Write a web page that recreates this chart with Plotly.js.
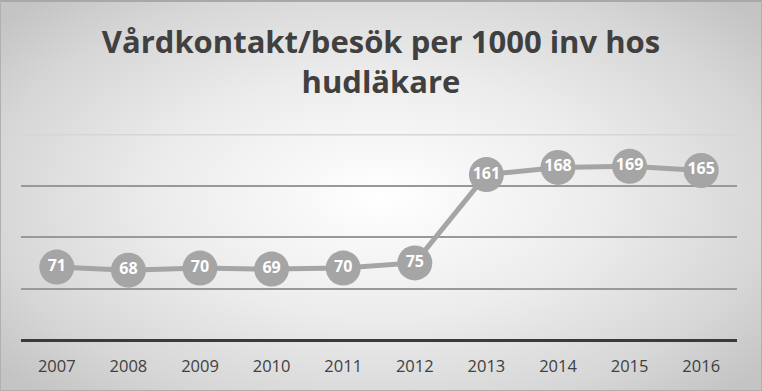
<!DOCTYPE html>
<html>
<head>
<meta charset="utf-8">
<script src="https://cdn.plot.ly/plotly-3.0.1.min.js"></script>
<style>
html,body{margin:0;padding:0;}
#wrap{width:762px;height:391px;box-sizing:border-box;border:1px solid #b0b0b0;border-top:2px solid #a8a8a8;
background:radial-gradient(ellipse 65% 70% at 50% 50%, #ffffff 0%, #ececec 45%, #d6d6d6 80%, #c4c4c4 100%);}
#chart{width:762px;height:391px;position:absolute;left:0;top:0;}
</style>
</head>
<body>
<div id="wrap"></div>
<div id="chart"></div>
<script>
const years = ['2007','2008','2009','2010','2011','2012','2013','2014','2015','2016'];
const values = [71, 68, 70, 69, 70, 75, 161, 168, 169, 165];
const labels = values.map(String);

const trace = {
  x: years,
  y: values,
  text: labels,
  type: 'scatter',
  mode: 'lines+markers+text',
  line: {color: '#a5a5a5', width: 5},
  marker: {color: '#a5a5a5', size: 35},
  textposition: 'middle center',
  textfont: {family: 'Open Sans, sans-serif', size: 16, color: '#ffffff', weight: 'bold'},
  cliponaxis: false,
  hoverinfo: 'skip'
};

const layout = {
  width: 762, height: 391,
  paper_bgcolor: 'rgba(0,0,0,0)',
  plot_bgcolor: 'rgba(0,0,0,0)',
  margin: {l: 21, r: 25, t: 134, b: 51},
  title: {
    text: 'Vårdkontakt/besök per 1000 inv hos<br>hudläkare',
    font: {family: 'Open Sans, sans-serif', size: 31, color: '#404040', weight: 'bold'},
    x: 0.5, xanchor: 'center', yref: 'container', y: 0.865, yanchor: 'top'
  },
  showlegend: false,
  xaxis: {
    type: 'category',
    range: [-0.5, 9.5],
    autorange: false,
    showgrid: false,
    showline: false,
    zeroline: false,
    ticks: '',
    tickfont: {family: 'Open Sans, sans-serif', size: 16.5, color: '#404040'},
    ticklabelstandoff: 14
  },
  yaxis: {
    range: [0, 200.5],
    autorange: false,
    tickvals: [0, 50, 100, 150],
    showticklabels: false,
    showgrid: true,
    gridcolor: '#999999',
    gridwidth: 2,
    zeroline: true,
    zerolinecolor: '#3a3a3a',
    zerolinewidth: 3,
    showline: false,
    ticks: ''
  },
  shapes: [{
    type: 'line', xref: 'paper', x0: 0, x1: 1, yref: 'y', y0: 200, y1: 200,
    line: {color: '#d6d6d6', width: 2}, layer: 'below'
  }]
};

Plotly.newPlot('chart', [trace], layout, {staticPlot: true, displayModeBar: false});
</script>
</body>
</html>
